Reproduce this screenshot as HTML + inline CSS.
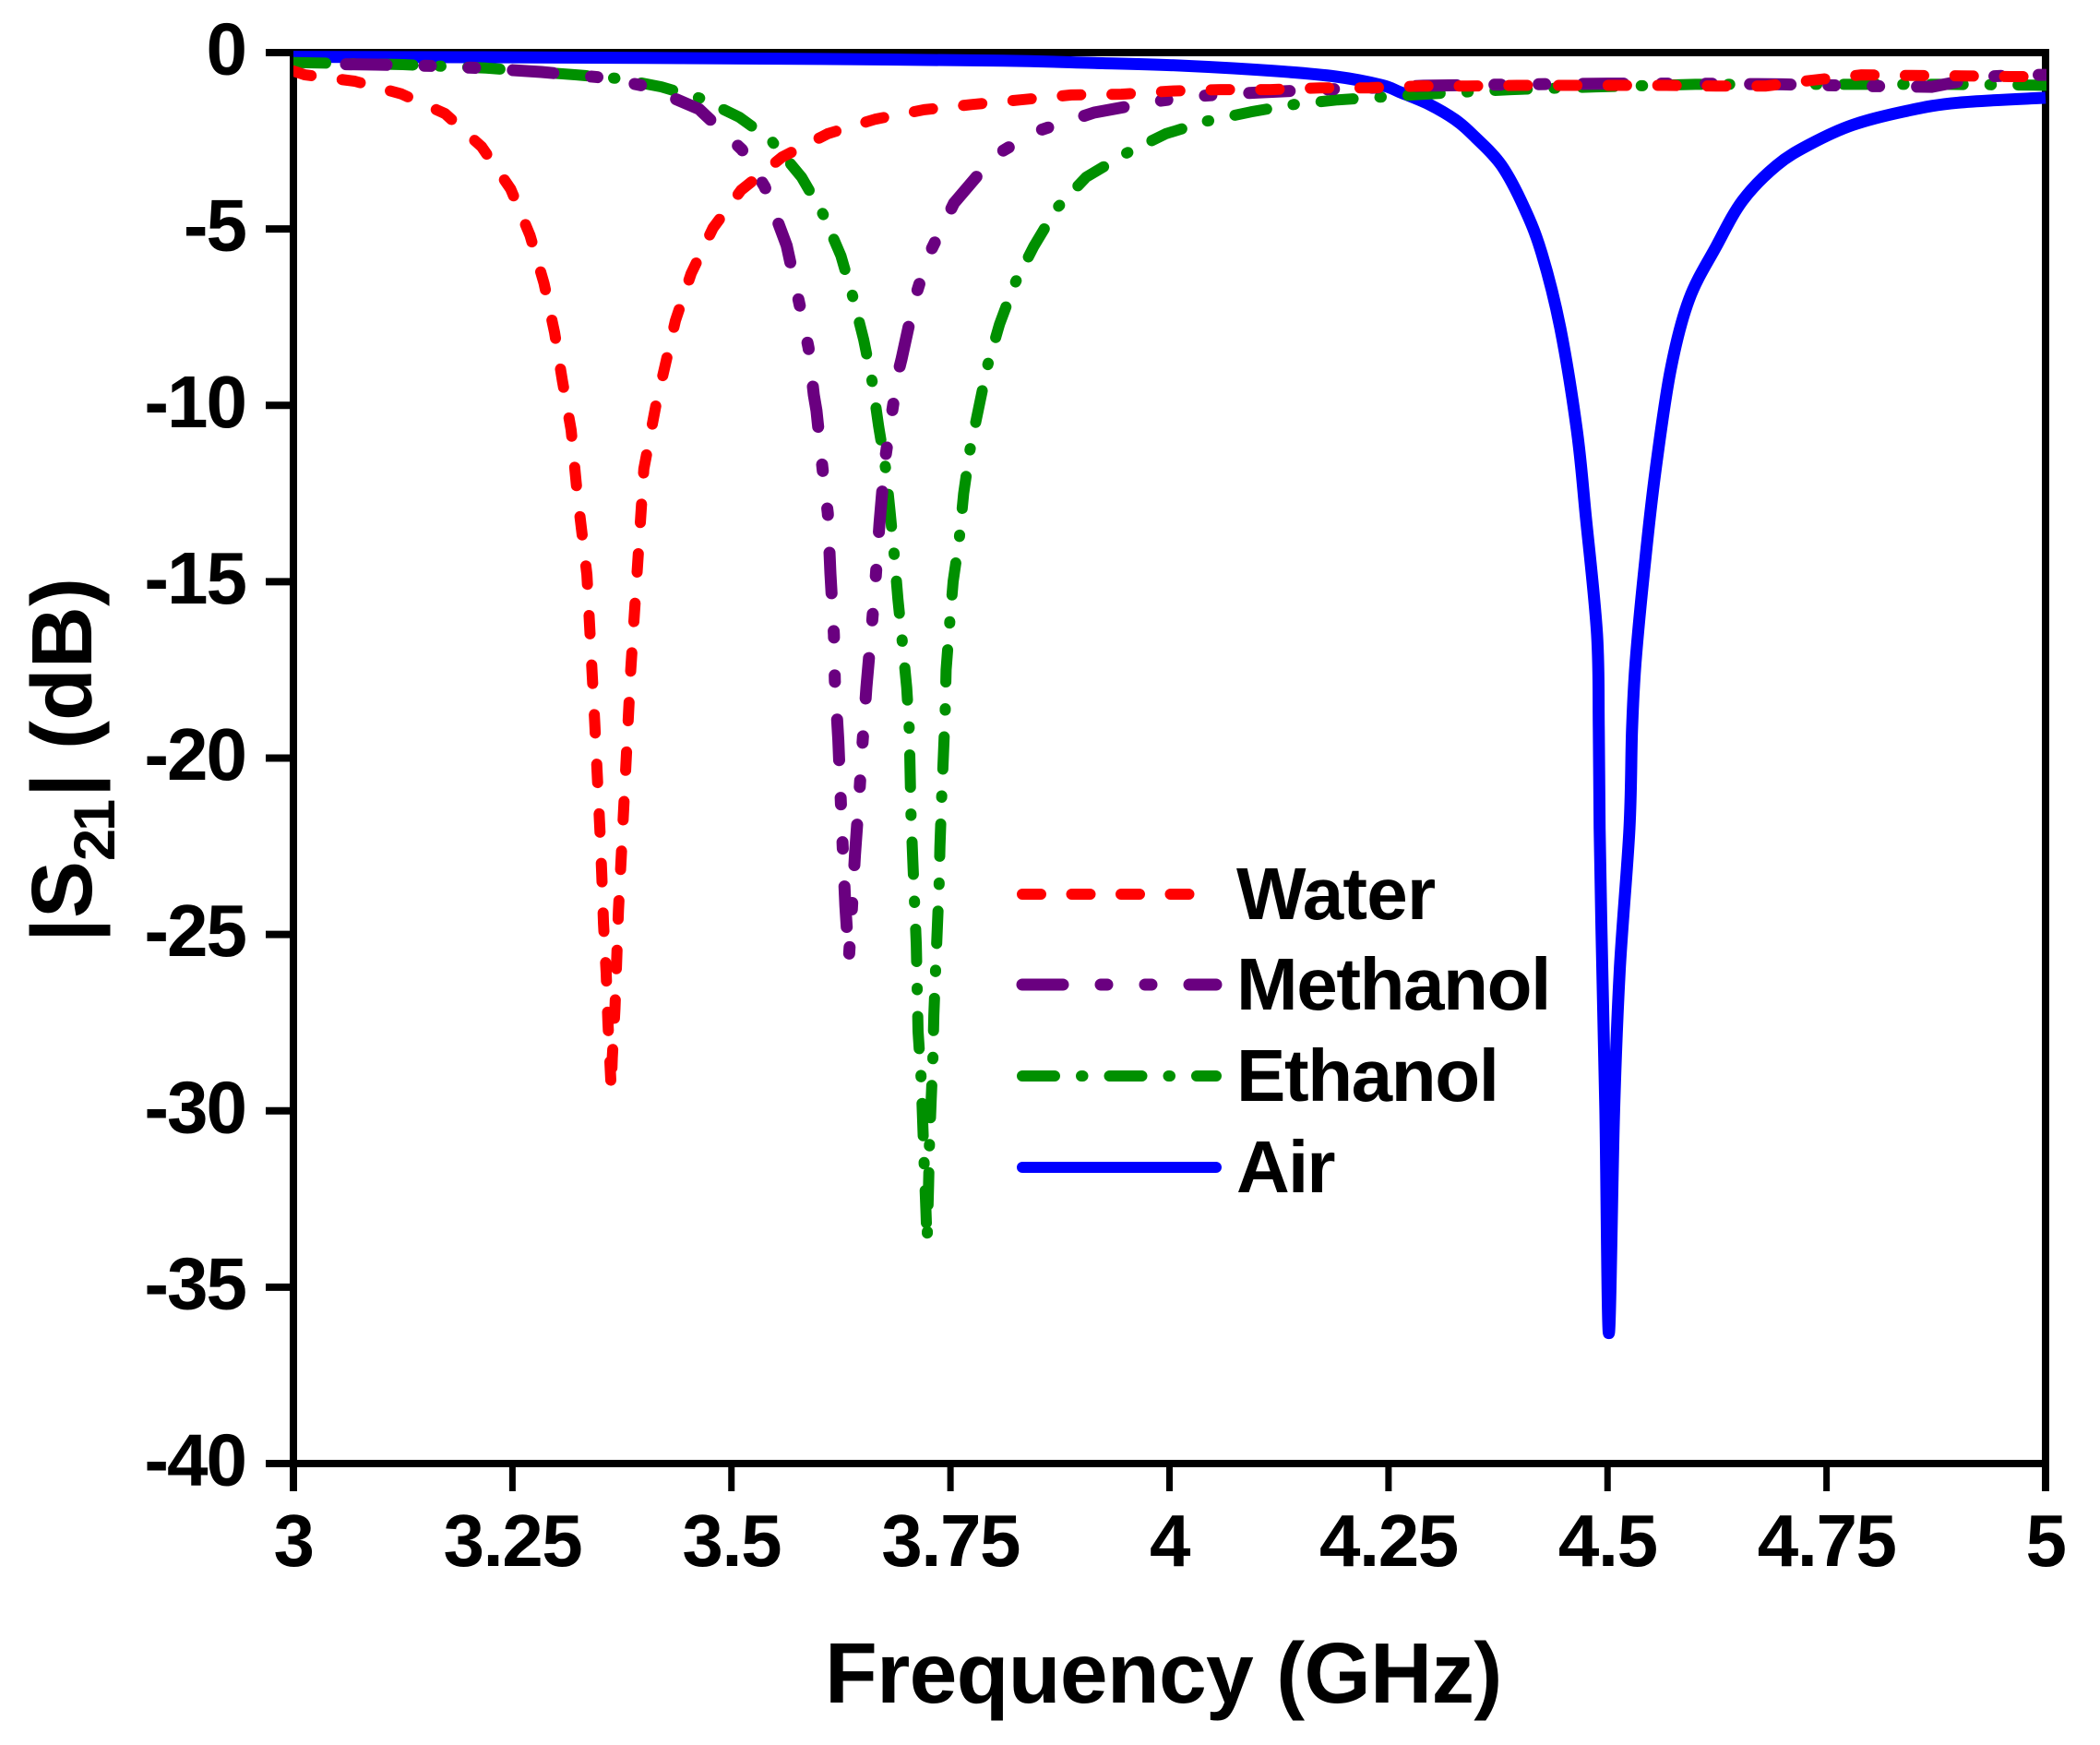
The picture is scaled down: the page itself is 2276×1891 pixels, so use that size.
<!DOCTYPE html>
<html lang="en">
<head>
<meta charset="utf-8">
<title>|S21| vs Frequency</title>
<style>
html,body{margin:0;padding:0;background:#fff;}
svg{display:block;}
text{font-family:"Liberation Sans",Arial,sans-serif;font-weight:bold;fill:#000;}
</style>
</head>
<body>
<svg id="chart" xmlns="http://www.w3.org/2000/svg" width="2276" height="1891" viewBox="0 0 2276 1891">
  <rect x="0" y="0" width="2276" height="1891" fill="#fff"/>
  <defs>
    <clipPath id="plot-clip"><rect x="318" y="40" width="1900" height="1546"/></clipPath>
  </defs>
  <g id="axes"></g>
  <g id="series" clip-path="url(#plot-clip)"></g>

  <text x="894" y="1845" font-size="93" letter-spacing="-0.7">Frequency (GHz)</text>
  <text transform="translate(99 1021) rotate(-90)" font-size="93">|S<tspan font-size="63" dy="25" letter-spacing="-3">21</tspan><tspan dy="-25" dx="5">|</tspan> (dB)</text>

  <g id="legend">
    <line x1="1108" y1="969" x2="1290" y2="969" stroke="#ff0000" stroke-width="12" stroke-linecap="round" stroke-dasharray="20 33.5"/>
    <text x="1340" y="996" font-size="80" letter-spacing="-0.8">Water</text>
    <line x1="1108" y1="1067" x2="1318" y2="1067" stroke="#6a0080" stroke-width="13" stroke-linecap="round" stroke-dasharray="44 41 7 41 7 41"/>
    <text x="1340" y="1094" font-size="80" letter-spacing="-1.4">Methanol</text>
    <line x1="1108" y1="1166" x2="1318" y2="1166" stroke="#009000" stroke-width="12" stroke-linecap="round" stroke-dasharray="35 29 1.5 29"/>
    <text x="1340" y="1193" font-size="80" letter-spacing="-1.4">Ethanol</text>
    <line x1="1108" y1="1265" x2="1318" y2="1265" stroke="#0000ff" stroke-width="12" stroke-linecap="round"/>
    <text x="1340" y="1292" font-size="80" letter-spacing="-1.8">Air</text>
  </g>
</svg>
<script>
var xTickValues = [3, 3.25, 3.5, 3.75, 4, 4.25, 4.5, 4.75, 5];
var xTickLabels = ["3", "3.25", "3.5", "3.75", "4", "4.25", "4.5", "4.75", "5"];
var yTickValues = [0, -5, -10, -15, -20, -25, -30, -35, -40];
var yTickLabels = ["0", "-5", "-10", "-15", "-20", "-25", "-30", "-35", "-40"];

var airFreq = [3, 3.2, 3.4, 3.6, 3.81, 3.91, 4.014, 4.12, 4.19, 4.242, 4.263, 4.295, 4.326, 4.349, 4.379, 4.405, 4.425, 4.446, 4.465, 4.475, 4.488, 4.49, 4.491, 4.494, 4.4975, 4.5015, 4.5075, 4.514, 4.525, 4.528, 4.532, 4.543, 4.555, 4.572, 4.593, 4.624, 4.654, 4.693, 4.731, 4.78, 4.842, 4.9, 5];
var airDb = [-0.12, -0.13, -0.15, -0.18, -0.23, -0.29, -0.37, -0.52, -0.68, -0.92, -1.12, -1.45, -1.9, -2.4, -3.2, -4.4, -5.7, -7.8, -10.7, -13.1, -16.5, -19.2, -22, -26, -30, -36.3, -30, -26, -22, -19.2, -17.3, -14.4, -11.8, -9, -7, -5.5, -4.2, -3.2, -2.6, -2.05, -1.65, -1.42, -1.28];

var ethanolFreq = [3, 3.125, 3.22, 3.323, 3.369, 3.42, 3.465, 3.509, 3.545, 3.58, 3.605, 3.625, 3.639, 3.651, 3.661, 3.668, 3.676, 3.681, 3.686, 3.69, 3.695, 3.7, 3.703, 3.704, 3.705, 3.707, 3.709, 3.711, 3.713, 3.7165, 3.719, 3.72, 3.722, 3.7232, 3.7235, 3.725, 3.726, 3.728, 3.73, 3.731, 3.733, 3.735, 3.737, 3.738, 3.74, 3.742, 3.744, 3.745, 3.749, 3.753, 3.76, 3.765, 3.772, 3.782, 3.792, 3.806, 3.823, 3.845, 3.871, 3.905, 3.951, 3.996, 4.043, 4.093, 4.142, 4.192, 4.241, 4.29, 4.39, 4.487, 4.6, 4.706, 4.787, 4.884, 4.986, 5];
var ethanolDb = [-0.28, -0.34, -0.44, -0.63, -0.73, -0.97, -1.3, -1.83, -2.48, -3.53, -4.6, -5.76, -6.96, -8.14, -9.37, -10.6, -11.8, -13, -14.3, -15.5, -16.7, -18, -19.2, -20.4, -21.65, -22.9, -24.1, -25.3, -27.75, -29.06, -30.8, -31.5, -32.8, -33.7, -33.5, -32.1, -31, -29.7, -28.5, -27.3, -26, -24.8, -23.6, -22.5, -21.1, -19.9, -18.7, -17.5, -16.2, -15, -13.8, -12.5, -11.3, -10.1, -8.9, -7.7, -6.57, -5.5, -4.42, -3.53, -2.85, -2.3, -1.94, -1.68, -1.47, -1.34, -1.26, -1.18, -1.05, -0.97, -0.9, -0.9, -0.9, -0.9, -0.92, -0.93];

var methanolFreq = [3.06, 3.093, 3.163, 3.213, 3.283, 3.353, 3.402, 3.463, 3.512, 3.538, 3.563, 3.578, 3.588, 3.594, 3.597, 3.604, 3.61, 3.613, 3.617, 3.618, 3.622, 3.625, 3.627, 3.63, 3.634, 3.637, 3.641, 3.646, 3.649, 3.654, 3.66, 3.664, 3.669, 3.675, 3.682, 3.69, 3.694, 3.709, 3.724, 3.754, 3.8, 3.846, 3.914, 3.982, 4.033, 4.101, 4.172, 4.228, 4.29, 4.4, 4.5, 4.6, 4.7, 4.8, 4.87, 4.93, 4.98, 5];
var methanolDb = [-0.33, -0.34, -0.38, -0.44, -0.55, -0.71, -0.95, -1.6, -2.75, -3.8, -5.47, -7.17, -8.37, -9.7, -10.15, -11.8, -13.06, -14.76, -16.5, -17.8, -19.5, -21.3, -22.5, -24.2, -25.7, -24.5, -22.75, -21, -19.8, -18, -16.3, -15.1, -13.35, -11.6, -10.4, -9.1, -8.7, -7, -5.8, -4.27, -2.93, -2.25, -1.7, -1.39, -1.23, -1.13, -1.05, -1, -0.94, -0.9, -0.88, -0.88, -0.9, -0.95, -0.97, -0.68, -0.63, -0.63];

var waterFreq = [3, 3.013, 3.07, 3.123, 3.173, 3.215, 3.248, 3.27, 3.286, 3.298, 3.307, 3.317, 3.324, 3.335, 3.344, 3.35, 3.352, 3.354, 3.357, 3.359, 3.3628, 3.364, 3.367, 3.369, 3.371, 3.374, 3.385, 3.4, 3.414, 3.424, 3.436, 3.454, 3.479, 3.511, 3.558, 3.61, 3.664, 3.72, 3.775, 3.83, 3.888, 3.945, 4.001, 4.058, 4.115, 4.172, 4.228, 4.285, 4.34, 4.397, 4.454, 4.51, 4.567, 4.624, 4.68, 4.735, 4.79, 4.847, 4.904, 4.96, 5];
var waterDb = [-0.52, -0.63, -0.81, -1.17, -1.73, -2.67, -3.87, -5.18, -6.54, -7.93, -9.3, -10.7, -12.5, -14.8, -19, -22.1, -23.3, -24.7, -26.1, -27.5, -29.4, -28.5, -27.1, -25.7, -24.3, -22.9, -17.5, -11.8, -9.97, -8.9, -7.6, -6.26, -4.97, -3.9, -2.96, -2.3, -1.89, -1.62, -1.47, -1.34, -1.2, -1.18, -1.09, -1.05, -1.05, -1, -1, -0.95, -0.95, -0.93, -0.93, -0.93, -0.93, -0.95, -0.95, -0.78, -0.63, -0.65, -0.66, -0.68, -0.68];

var SVG_NS = "http://www.w3.org/2000/svg";
var PLOT_LEFT = 318, PLOT_RIGHT = 2217, PLOT_TOP = 57, PLOT_BOTTOM = 1586;
var X_MIN = 3, X_MAX = 5, Y_MIN = -40, Y_MAX = 0;

function xScale(f) { return PLOT_LEFT + (f - X_MIN) / (X_MAX - X_MIN) * (PLOT_RIGHT - PLOT_LEFT); }
function yScale(v) { return PLOT_TOP + (Y_MAX - v) / (Y_MAX - Y_MIN) * (PLOT_BOTTOM - PLOT_TOP); }

function make(tag, parent) {
  var el = document.createElementNS(SVG_NS, tag);
  parent.appendChild(el);
  return el;
}
function drawLine(parent, x1, y1, x2, y2, w) {
  var l = make("line", parent);
  l.setAttribute("x1", x1);
  l.setAttribute("y1", y1);
  l.setAttribute("x2", x2);
  l.setAttribute("y2", y2);
  l.setAttribute("stroke", "#000");
  l.setAttribute("stroke-width", w);
  return l;
}

var axes = document.getElementById("axes");

var topAxis = drawLine(axes, 288, PLOT_TOP, PLOT_RIGHT + 4, PLOT_TOP, 8);


var bottomAxis = drawLine(axes, 288, PLOT_BOTTOM, PLOT_RIGHT + 4, PLOT_BOTTOM, 8);


var leftAxis = drawLine(axes, PLOT_LEFT, PLOT_TOP - 4, PLOT_LEFT, 1616, 8);


var rightAxis = drawLine(axes, PLOT_RIGHT, PLOT_TOP - 4, PLOT_RIGHT, 1616, 8);



xTickValues.forEach(function (v, i) {
  var x = xScale(v);
  var tick = drawLine(axes, x, PLOT_BOTTOM, x, 1616, 7);
  
  
  var t = make("text", axes);
  t.setAttribute("x", x);
  t.setAttribute("y", 1697);
  t.setAttribute("font-size", 80);
  t.setAttribute("letter-spacing", -1.5);
  t.setAttribute("text-anchor", "middle");
  t.textContent = xTickLabels[i];
  
  
});

yTickValues.forEach(function (v, i) {
  var y = yScale(v);
  var tick = drawLine(axes, 288, y, PLOT_LEFT, y, 8);
  
  
  var t = make("text", axes);
  t.setAttribute("x", 266);
  t.setAttribute("y", y + 23.5);
  t.setAttribute("font-size", 80);
  t.setAttribute("letter-spacing", -2);
  t.setAttribute("text-anchor", "end");
  t.textContent = yTickLabels[i];
  
  
});

function drawSeries(freq, db, color, width, dash) {
  var p = make("polyline", document.getElementById("series"));
  var pts = [];
  for (var i = 0; i < freq.length; i++) {
    pts.push(xScale(freq[i]).toFixed(1) + "," + yScale(db[i]).toFixed(1));
  }
  p.setAttribute("points", pts.join(" "));
  p.setAttribute("fill", "none");
  p.setAttribute("stroke", color);
  p.setAttribute("stroke-width", width);
  p.setAttribute("stroke-linejoin", "round");
  p.setAttribute("stroke-linecap", "round");
  p.setAttribute("stroke-dasharray", dash);
  return p;
}

function drawSmoothSeries(freq, db, color, width) {
  var p = make("path", document.getElementById("series"));
  var n = freq.length;
  var px = freq.map(xScale);
  var py = db.map(yScale);
  var d = "M" + px[0].toFixed(1) + " " + py[0].toFixed(1);
  for (var i = 0; i < n - 1; i++) {
    var a = Math.max(i - 1, 0), b = Math.min(i + 2, n - 1);
    var c1x = px[i] + (px[i + 1] - px[a]) / 6;
    var c1y = py[i] + (py[i + 1] - py[a]) / 6;
    var c2x = px[i + 1] - (px[b] - px[i]) / 6;
    var c2y = py[i + 1] - (py[b] - py[i]) / 6;
    d += "C" + c1x.toFixed(1) + " " + c1y.toFixed(1) + " " + c2x.toFixed(1) + " " + c2y.toFixed(1) + " " + px[i + 1].toFixed(1) + " " + py[i + 1].toFixed(1);
  }
  p.setAttribute("d", d);
  p.setAttribute("fill", "none");
  p.setAttribute("stroke", color);
  p.setAttribute("stroke-width", width);
  p.setAttribute("stroke-linejoin", "round");
  return p;
}

var airLine = drawSmoothSeries(airFreq, airDb, "#0000ff", 13);


var ethanolLine = drawSeries(ethanolFreq, ethanolDb, "#009000", 12, "35 29 1.5 29");


var methanolLine = drawSeries(methanolFreq, methanolDb, "#6a0080", 13, "44 41 7 41 7 41");


var waterLine = drawSeries(waterFreq, waterDb, "#ff0000", 12, "20 33.8");



document.getElementById("chart").appendChild(document.getElementById("legend"));
</script>
</body>
</html>
